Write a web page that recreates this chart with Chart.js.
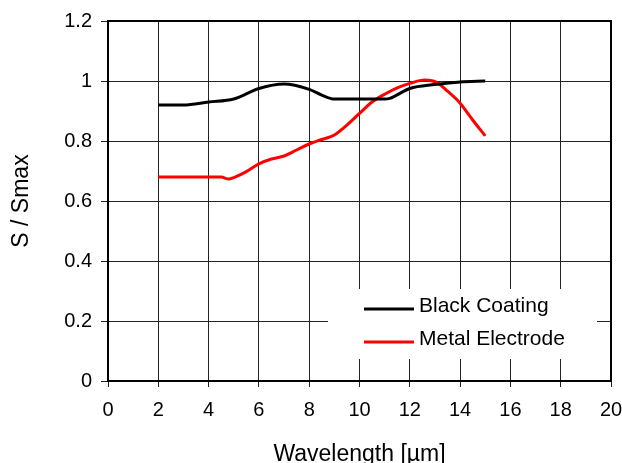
<!DOCTYPE html>
<html>
<head>
<meta charset="utf-8">
<script src="https://cdn.jsdelivr.net/npm/chart.js@4/dist/chart.umd.min.js"></script>
<style>
  html, body { margin: 0; padding: 0; background: #fff; }
  #wrap { width: 622px; height: 463px; }
</style>
</head>
<body>
<div id="wrap"><canvas id="c" width="622" height="463"></canvas></div>
<script>
const seriesNames = ['Black Coating', 'Metal Electrode'];
const blackX = [2, 3, 4, 5, 6, 7, 8, 8.5, 9, 10, 11, 11.2, 12, 13, 14, 15];
const blackY = [0.92, 0.92, 0.93, 0.94, 0.975, 0.99, 0.972, 0.953, 0.94, 0.94, 0.94, 0.942, 0.975, 0.988, 0.997, 1.0];
const redX = [2, 3, 4, 4.5, 4.8, 5, 5.5, 6, 6.5, 7, 7.5, 8, 8.5, 9, 9.5, 10, 10.5, 11, 11.5, 12, 12.6, 13.1, 13.5, 14, 14.5, 15];
const redY = [0.68, 0.68, 0.68, 0.68, 0.673, 0.678, 0.698, 0.724, 0.74, 0.75, 0.77, 0.79, 0.805, 0.82, 0.853, 0.892, 0.93, 0.956, 0.977, 0.992, 1.003, 0.994, 0.966, 0.926, 0.87, 0.817];
const xTickLabels = ['0', '2', '4', '6', '8', '10', '12', '14', '16', '18', '20'];
const yTickLabels = ['0', '0.2', '0.4', '0.6', '0.8', '1', '1.2'];
const xTitle = 'Wavelength [µm]';
const yTitle = 'S / Smax';

const FONT = 'Liberation Sans, Arial, sans-serif';
const toPts = (xs, ys) => xs.map((x, i) => ({ x: x, y: ys[i] }));

const frameAndLegend = {
  id: 'frameAndLegend',
  afterDatasetsDraw(chart) {
    const ctx = chart.ctx;
    const a = chart.chartArea;
    ctx.save();
    // legend box (white, covers grid)
    const bx = a.left + 220, by = a.top + 268, bw = 269, bh = 70;
    ctx.fillStyle = '#fff';
    ctx.fillRect(bx, by, bw, bh);
    const colors = chart.data.datasets.map(d => d.borderColor);
    ctx.font = '21px ' + FONT;
    ctx.textBaseline = 'middle';
    ctx.textAlign = 'left';
    chart.data.datasets.forEach((d, i) => {
      const ly = by + 20 + i * 33;
      ctx.strokeStyle = colors[i];
      ctx.lineWidth = 3;
      ctx.beginPath();
      ctx.moveTo(bx + 36, ly);
      ctx.lineTo(bx + 86, ly);
      ctx.stroke();
      ctx.fillStyle = '#000';
      ctx.fillText(d.label, bx + 91, ly - 3);
    });
    // frame
    ctx.strokeStyle = '#000';
    ctx.lineWidth = 2;
    ctx.strokeRect(a.left, a.top, a.right - a.left, a.bottom - a.top);
    ctx.restore();
  }
};

new Chart(document.getElementById('c'), {
  type: 'line',
  data: {
    datasets: [
      { label: seriesNames[0], data: toPts(blackX, blackY), borderColor: '#000000', borderWidth: 3, pointRadius: 0, cubicInterpolationMode: 'monotone', fill: false },
      { label: seriesNames[1], data: toPts(redX, redY), borderColor: '#ff0000', borderWidth: 3, pointRadius: 0, cubicInterpolationMode: 'monotone', fill: false }
    ]
  },
  options: {
    responsive: false,
    animation: false,
    layout: { padding: { top: 21, right: 11, left: 0, bottom: 0 } },
    plugins: { legend: { display: false }, tooltip: { enabled: false } },
    scales: {
      x: {
        type: 'linear', min: 0, max: 20,
        afterFit(s) { s.height = 82; s.paddingRight = 0; s.paddingLeft = 0; },
        ticks: { stepSize: 2, padding: 11, color: '#000', font: { family: FONT, size: 20 }, maxRotation: 0, autoSkip: false,
          callback: (v, i) => xTickLabels[i] },
        grid: { color: '#222', lineWidth: 1, tickLength: 6, drawTicks: true },
        border: { display: true, color: '#000', width: 2 },
        title: { display: true, text: xTitle, color: '#000', font: { family: FONT, size: 23, lineHeight: 0.75 }, padding: { top: 0, bottom: 0 } }
      },
      y: {
        type: 'linear', min: 0, max: 1.2,
        afterFit(s) { s.width = 108; },
        ticks: { stepSize: 0.2, padding: 9, color: '#000', font: { family: FONT, size: 20 },
          callback: (v, i) => yTickLabels[i] },
        grid: { color: '#222', lineWidth: 1, tickLength: 7, drawTicks: true },
        border: { display: true, color: '#000', width: 2 },
        title: { display: true, text: yTitle, color: '#000', font: { family: FONT, size: 23, lineHeight: 0.75 }, padding: { top: 13, bottom: 0 } }
      }
    }
  },
  plugins: [frameAndLegend]
});
</script>
</body>
</html>
